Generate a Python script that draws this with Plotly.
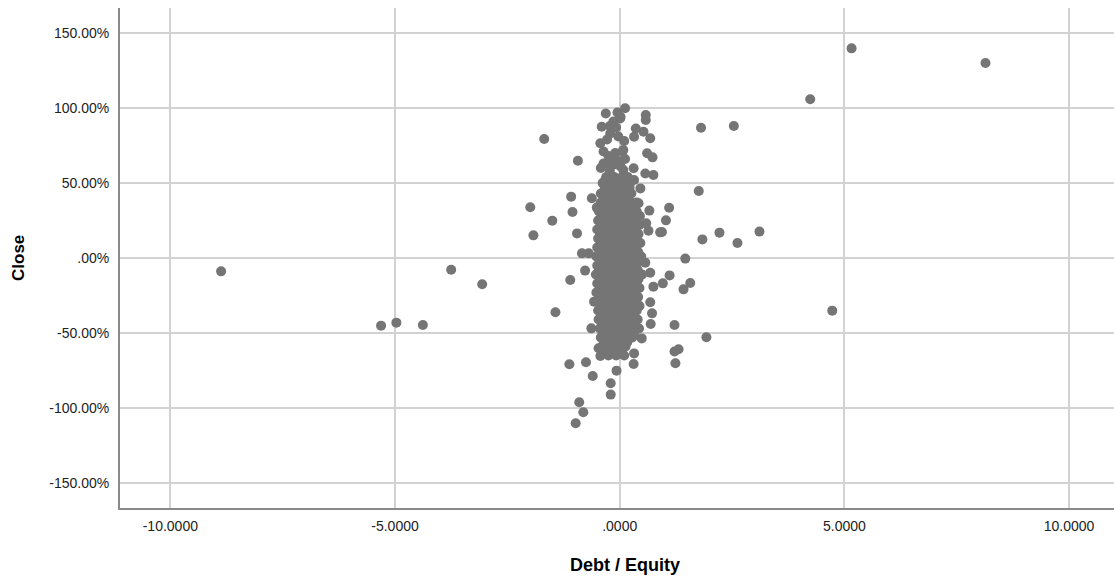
import plotly.graph_objects as go

# ---- Data (Debt / Equity ratio vs Close change in %) ----
# isolated points away from the central cluster
outlier_de = [-8.87, -3.75, -3.06, -5.31, -4.97, -4.38, -1.99, -1.92, -1.68, -0.93,
              -1.50, -1.08, -1.05, -0.95, -1.10, -1.43, -1.12, -0.90, -0.81, -0.98,
              -0.75, -0.60, -0.20, -0.20, -0.07, 0.31, -0.62, -0.51, -0.84, -0.69,
              -0.77, -0.63, -0.47, -0.43, -0.57,
              5.16, 8.14, 4.24, 1.81, 2.54, 1.76, 1.10, 1.03, 0.94, 1.84,
              2.22, 2.62, 3.11, 1.46, 1.11, 0.96, 1.57, 1.42, 4.73, 1.22,
              1.93, 1.31, 1.22, 1.24, 0.75, 0.68, 0.72, 0.69, 0.49, 0.32,
              0.12, -0.31, 0.58, 0.58, 0.36, 0.53, 0.68, 0.32, 0.61, 0.73,
              0.31, 0.57, 0.75, 0.32, 0.46, 0.42, 0.66, 0.90, 0.64, 0.59,
              0.57, 0.68]
outlier_close = [-8.9, -7.8, -17.5, -45.1, -43.1, -44.7, 33.8, 15.1, 79.3, 64.9,
                 24.9, 40.9, 30.7, 16.4, -14.7, -36.2, -70.9, -96.2, -102.9, -110.2,
                 -69.5, -78.7, -91.1, -83.5, -75.1, -70.7, 39.8, 33.6, 3.1, 3.1,
                 -8.4, -46.9, -60.2, -65.3, -29.1,
                 139.8, 130.0, 105.8, 86.9, 88.0, 44.7, 33.5, 25.1, 17.3, 12.4,
                 16.9, 10.0, 17.6, -0.4, -11.6, -16.9, -16.7, -20.9, -35.1, -44.7,
                 -52.9, -60.9, -62.4, -70.2, -19.1, -29.5, -36.9, -44.0, -53.6, -63.6,
                 99.8, 96.4, 95.3, 92.0, 86.4, 84.2, 79.8, 80.9, 69.8, 67.1,
                 59.8, 56.4, 55.3, 52.0, 46.4, 36.5, 31.6, 17.1, 18.2, 23.1,
                 -3.1, -9.8]

# upper part of the central column
column_de = [-0.05, 0.02, -0.14, 0.01, -0.40, -0.21, -0.03, -0.43, -0.36, 0.08,
             -0.14, -0.36, 0.08, -0.32, -0.14, 0.23, -0.22, -0.08, -0.28, 0.10,
             -0.25, 0.06, -0.10, 0.12, -0.05, -0.30, -0.15, 0.02, -0.42, -0.22]
column_close = [97, 94, 91, 93, 87.5, 83, 81, 76.5, 71, 72,
                67.5, 63, 58.7, 52, 47.5, 49.8, 88, 87, 79, 78,
                68, 71, 70, 66, 65, 63, 62, 61, 60, 58]

# dense core of the cluster
core_de = [-0.30, -0.12, 0.05, 0.18,
           -0.38, -0.22, -0.02, 0.15,
           -0.33, -0.15, 0.04, 0.22,
           -0.42, -0.25, -0.08, 0.10, 0.26,
           -0.36, -0.18, 0.00, 0.18,
           -0.42, -0.28, -0.10, 0.08, 0.26, 0.38,
           -0.38, -0.20, -0.03, 0.14, 0.32,
           -0.46, -0.30, -0.12, 0.05, 0.22, 0.38,
           -0.40, -0.22, -0.05, 0.12, 0.30, 0.45,
           -0.48, -0.32, -0.14, 0.03, 0.20, 0.36,
           -0.42, -0.25, -0.07, 0.10, 0.27, 0.44,
           -0.50, -0.34, -0.16, 0.01, 0.18, 0.34,
           -0.44, -0.26, -0.09, 0.08, 0.25, 0.42,
           -0.48, -0.31, -0.13, 0.04, 0.21, 0.38,
           -0.42, -0.24, -0.06, 0.11, 0.29, 0.46,
           -0.50, -0.33, -0.15, 0.02, 0.19, 0.36,
           -0.45, -0.27, -0.10, 0.07, 0.24, 0.41,
           -0.52, -0.35, -0.17, 0.00, 0.17, 0.33, 0.48,
           -0.44, -0.26, -0.08, 0.09, 0.26, 0.43,
           -0.50, -0.32, -0.14, 0.03, 0.20, 0.37,
           -0.46, -0.28, -0.11, 0.06, 0.23, 0.40,
           -0.53, -0.35, -0.17, 0.00, 0.17, 0.34, 0.50,
           -0.45, -0.27, -0.09, 0.08, 0.25, 0.42,
           -0.50, -0.32, -0.14, 0.03, 0.20, 0.37,
           -0.44, -0.26, -0.08, 0.09, 0.26, 0.44,
           -0.52, -0.34, -0.16, 0.01, 0.18, 0.35,
           -0.46, -0.28, -0.10, 0.07, 0.24, 0.41,
           -0.50, -0.32, -0.14, 0.03, 0.20, 0.37,
           -0.43, -0.25, -0.07, 0.10, 0.27, 0.44,
           -0.48, -0.30, -0.12, 0.05, 0.22, 0.38,
           -0.42, -0.24, -0.06, 0.11, 0.28,
           -0.47, -0.29, -0.11, 0.06, 0.23, 0.40,
           -0.40, -0.22, -0.04, 0.13, 0.30,
           -0.44, -0.26, -0.08, 0.09, 0.26, 0.43,
           -0.38, -0.20, -0.02, 0.15, 0.32,
           -0.42, -0.24, -0.06, 0.11, 0.28,
           -0.35, -0.17, 0.00, 0.17,
           -0.40, -0.22, -0.04, 0.13,
           -0.30, -0.12, 0.05,
           -0.25, -0.08, 0.10]
core_close = [54, 54, 54, 54,
              50, 50, 50, 50,
              47, 47, 47, 47,
              43, 43, 43, 43, 43,
              40, 40, 40, 40,
              37, 37, 37, 37, 37, 37,
              34, 34, 34, 34, 34,
              31, 31, 31, 31, 31, 31,
              28, 28, 28, 28, 28, 28,
              25, 25, 25, 25, 25, 25,
              22, 22, 22, 22, 22, 22,
              19, 19, 19, 19, 19, 19,
              16, 16, 16, 16, 16, 16,
              13, 13, 13, 13, 13, 13,
              10, 10, 10, 10, 10, 10,
              7, 7, 7, 7, 7, 7,
              4, 4, 4, 4, 4, 4,
              1, 1, 1, 1, 1, 1, 1,
              -2, -2, -2, -2, -2, -2,
              -5, -5, -5, -5, -5, -5,
              -8, -8, -8, -8, -8, -8,
              -11, -11, -11, -11, -11, -11, -11,
              -14, -14, -14, -14, -14, -14,
              -17, -17, -17, -17, -17, -17,
              -20, -20, -20, -20, -20, -20,
              -23, -23, -23, -23, -23, -23,
              -26, -26, -26, -26, -26, -26,
              -29, -29, -29, -29, -29, -29,
              -32, -32, -32, -32, -32, -32,
              -35, -35, -35, -35, -35, -35,
              -38, -38, -38, -38, -38,
              -41, -41, -41, -41, -41, -41,
              -44, -44, -44, -44, -44,
              -47, -47, -47, -47, -47, -47,
              -50, -50, -50, -50, -50,
              -53, -53, -53, -53, -53,
              -56, -56, -56, -56,
              -59, -59, -59, -59,
              -62, -62, -62,
              -65, -65, -65]

x_tick_vals = [-10, -5, 0, 5, 10]
x_tick_text = ["-10.0000", "-5.0000", ".0000", "5.0000", "10.0000"]
y_tick_vals = [150, 100, 50, 0, -50, -100, -150]
y_tick_text = ["150.00%", "100.00%", "50.00%", ".00%", "-50.00%", "-100.00%", "-150.00%"]

all_de = outlier_de + column_de + core_de
all_close = outlier_close + column_close + core_close

W, H = 1114, 581
L, R, T, B = 120, 0, 8, 73

fig = go.Figure()
fig.add_trace(go.Scatter(
    x=all_de, y=all_close, mode="markers",
    marker=dict(color="#757575", size=10, line=dict(width=0)),
    hoverinfo="skip", showlegend=False,
))

font_family = "Liberation Sans, Arial, sans-serif"
fig.update_layout(
    width=W, height=H,
    margin=dict(l=L, r=R, t=T, b=B, pad=0),
    paper_bgcolor="white", plot_bgcolor="white",
    font=dict(family=font_family, color="#222222", size=14),
    xaxis=dict(
        range=[-11.12, 11.0], tickvals=x_tick_vals, ticktext=x_tick_text,
        showgrid=True, gridcolor="#d2d2d2", gridwidth=1.5,
        zeroline=False, showline=True, linecolor="#8a8a8a", linewidth=2,
        ticks="", ticklabelstandoff=4, tickfont=dict(size=14),
    ),
    yaxis=dict(
        range=[-166.7, 166.7], tickvals=y_tick_vals, ticktext=y_tick_text,
        showgrid=True, gridcolor="#d2d2d2", gridwidth=1.5,
        zeroline=False, showline=True, linecolor="#8a8a8a", linewidth=2,
        ticks="", ticklabelstandoff=6, tickfont=dict(size=14),
    ),
    annotations=[
        dict(text="<b>Debt / Equity</b>", xref="paper", yref="paper",
             x=(625 - L) / (W - L - R), y=-(565 - (H - B)) / (H - T - B),
             xanchor="center", yanchor="middle", showarrow=False,
             font=dict(size=18, color="#000000", family=font_family)),
        dict(text="<b>Close</b>", xref="paper", yref="paper",
             x=(18 - L) / (W - L - R), y=0.5, textangle=-90,
             xanchor="center", yanchor="middle", showarrow=False,
             font=dict(size=17, color="#000000", family=font_family)),
    ],
)

fig.write_html("out.html")
